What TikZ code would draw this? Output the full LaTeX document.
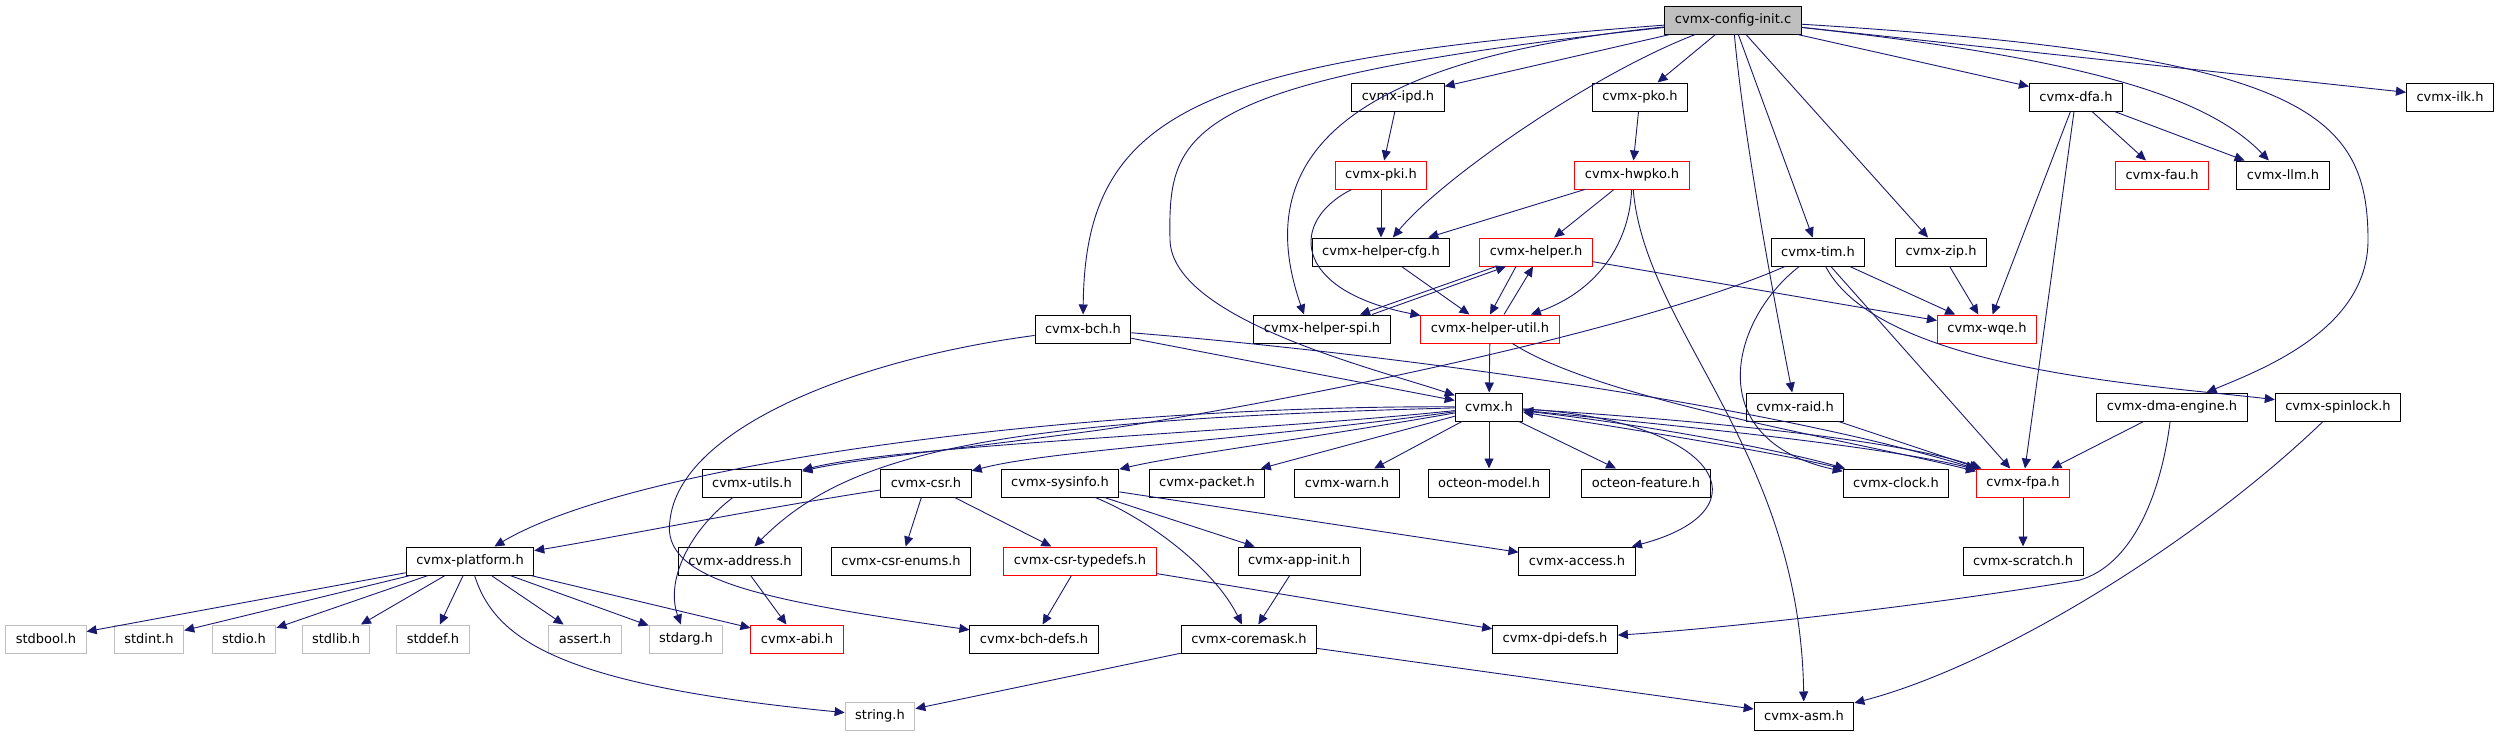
\documentclass[tikz,border=0pt]{standalone}
\usepackage{fontspec}
\setmainfont{DejaVu Sans}
\usetikzlibrary{arrows.meta}

\definecolor{edgeblue}{HTML}{191970}
\definecolor{boxgray}{HTML}{BFBFBF}

\begin{document}
\begin{tikzpicture}[x=1pt,y=-1pt,
    hdr/.style={draw=black,line width=1pt,fill=white,minimum height=28pt,
      inner xsep=10pt,inner ysep=0pt,font=\fontsize{13}{15}\selectfont},
    trunc/.style={hdr,draw=red},
    sys/.style={hdr,draw=boxgray},
    root/.style={hdr,fill=boxgray},
    dep/.style={draw=edgeblue,line width=0.9pt,-{Triangle[length=10pt,width=9pt]}}]
  \useasboundingbox (0,0) rectangle (2504,736);

  % top rows
  \node[root] (config) at (1733,20) {cvmx-config-init.c};
  \node[hdr] (ipd) at (1398,97) {cvmx-ipd.h};
  \node[hdr] (pko) at (1640,97) {cvmx-pko.h};
  \node[hdr] (dfa) at (2076,97) {cvmx-dfa.h};
  \node[hdr] (ilk) at (2450,97) {cvmx-ilk.h};
  \node[trunc] (pki) at (1381,175) {cvmx-pki.h};
  \node[trunc] (hwpko) at (1632,175) {cvmx-hwpko.h};
  \node[trunc] (fau) at (2162,175) {cvmx-fau.h};
  \node[hdr] (llm) at (2283,175) {cvmx-llm.h};
  \node[hdr] (hcfg) at (1381,252) {cvmx-helper-cfg.h};
  \node[trunc] (helper) at (1536,252) {cvmx-helper.h};
  \node[hdr] (tim) at (1818,252) {cvmx-tim.h};
  \node[hdr] (zip) at (1941,252) {cvmx-zip.h};
  \node[hdr] (bch) at (1083,329) {cvmx-bch.h};
  \node[hdr] (hspi) at (1322,329) {cvmx-helper-spi.h};
  \node[trunc] (hutil) at (1490,329) {cvmx-helper-util.h};
  \node[trunc] (wqe) at (1987,329) {cvmx-wqe.h};
  \node[hdr] (cvmx) at (1489,407) {cvmx.h};
  \node[hdr] (raid) at (1795,407) {cvmx-raid.h};
  \node[hdr] (dma) at (2172,407) {cvmx-dma-engine.h};
  \node[hdr] (spinlock) at (2338,407) {cvmx-spinlock.h};
  % middle row
  \node[hdr] (utils) at (752,483) {cvmx-utils.h};
  \node[hdr] (csr) at (926,483) {cvmx-csr.h};
  \node[hdr] (sysinfo) at (1060,483) {cvmx-sysinfo.h};
  \node[hdr] (packet) at (1207,483) {cvmx-packet.h};
  \node[hdr] (warn) at (1347,483) {cvmx-warn.h};
  \node[hdr] (model) at (1489,483) {octeon-model.h};
  \node[hdr] (feature) at (1646,483) {octeon-feature.h};
  \node[hdr] (clock) at (1896,483) {cvmx-clock.h};
  \node[trunc] (fpa) at (2023,483) {cvmx-fpa.h};
  \node[hdr] (platform) at (470,561) {cvmx-platform.h};
  \node[hdr] (address) at (740,561) {cvmx-address.h};
  \node[hdr] (csrenums) at (901,561) {cvmx-csr-enums.h};
  \node[trunc] (typedefs) at (1080,561) {cvmx-csr-typedefs.h};
  \node[hdr] (appinit) at (1299,561) {cvmx-app-init.h};
  \node[hdr] (access) at (1577,561) {cvmx-access.h};
  \node[hdr] (scratch) at (2023,561) {cvmx-scratch.h};
  % bottom rows
  \node[sys] (stdbool) at (46,639) {stdbool.h};
  \node[sys] (stdint) at (149,639) {stdint.h};
  \node[sys] (stdio) at (244,639) {stdio.h};
  \node[sys] (stdlib) at (336,639) {stdlib.h};
  \node[sys] (stddef) at (433,639) {stddef.h};
  \node[sys] (assert) at (585,639) {assert.h};
  \node[sys] (stdarg) at (686,639) {stdarg.h};
  \node[trunc] (abi) at (797,639) {cvmx-abi.h};
  \node[hdr] (bchdefs) at (1034,639) {cvmx-bch-defs.h};
  \node[hdr] (coremask) at (1249,639) {cvmx-coremask.h};
  \node[hdr] (dpidefs) at (1555,639) {cvmx-dpi-defs.h};
  \node[sys] (string) at (880,716) {string.h};
  \node[hdr] (asm) at (1804,716) {cvmx-asm.h};

  % from the root file
  \draw[dep] (config) -- (ipd);
  \draw[dep] (config) -- (pko);
  \draw[dep] (config) .. controls (1590,75) and (1440,180) .. (hcfg);
  \draw[dep] (config) .. controls (1340,60) and (1250,160) .. ([xshift=-18pt]hspi.north);
  \draw[dep] (config) .. controls (1200,60) and (1085,110) .. (bch);
  \draw[dep] (config) .. controls (1180,80) and (1168,130) .. (1170,240)
    .. controls (1172,320) and (1380,370) .. (cvmx);
  \draw[dep] (config) .. controls (1745,150) and (1780,330) .. (raid);
  \draw[dep] (config) -- (tim);
  \draw[dep] (config) -- (zip);
  \draw[dep] (config) -- (dfa);
  \draw[dep] (config) .. controls (2100,60) and (2210,100) .. (llm);
  \draw[dep] (config) -- (ilk);
  \draw[dep] (config) .. controls (2300,55) and (2368,110) .. (2368,240)
    .. controls (2368,330) and (2260,370) .. (dma);

  % helper headers
  \draw[dep] (ipd) -- (pki);
  \draw[dep] (pko) -- (hwpko);
  \draw[dep] (pki) -- (hcfg);
  \draw[dep] (pki) .. controls (1290,220) and (1290,290) .. (hutil);
  \draw[dep] (hwpko) -- (hcfg);
  \draw[dep] (hwpko) -- (helper);
  \draw[dep] (hwpko) .. controls (1630,240) and (1600,290) .. (hutil);
  \draw[dep] (hwpko) .. controls (1645,330) and (1800,450) .. (asm);
  \draw[dep] (hcfg) -- (hutil);
  \draw[dep] ([xshift=-40pt]helper.south) -- ([xshift=38pt]hspi.north);
  \draw[dep] ([xshift=50pt]hspi.north) -- ([xshift=-30pt]helper.south);
  \draw[dep] ([xshift=-20pt]helper.south) -- (hutil.north);
  \draw[dep] ([xshift=14pt]hutil.north) -- ([xshift=-3pt]helper.south);
  \draw[dep] (helper) -- (wqe);
  \draw[dep] (hutil) -- (cvmx);
  \draw[dep] (hutil) .. controls (1600,400) and (1850,440) .. (fpa);

  % tim, zip, dfa and friends
  \draw[dep] (tim) -- (wqe);
  \draw[dep] (tim) -- (fpa);
  \draw[dep] (tim) .. controls (1880,370) and (2150,385) .. (spinlock);
  \draw[dep] (tim) .. controls (1730,320) and (1700,440) .. (clock);
  \draw[dep] (tim) .. controls (1640,330) and (1300,400) .. (1100,430)
    .. controls (950,450) and (850,460) .. (utils);
  \draw[dep] (zip) -- (wqe);
  \draw[dep] (dfa) -- (wqe);
  \draw[dep] (dfa) -- (fpa);
  \draw[dep] (dfa) -- (fau);
  \draw[dep] (dfa) -- (llm);
  \draw[dep] (raid) -- (fpa);
  \draw[dep] (dma) -- (fpa);
  \draw[dep] (dma) .. controls (2160,500) and (2130,565) .. (2080,580)
    .. controls (1900,610) and (1700,630) .. (dpidefs);
  \draw[dep] (spinlock) .. controls (2200,540) and (2000,665) .. (asm);
  \draw[dep] (fpa) -- (scratch);

  % bch
  \draw[dep] (bch) -- (cvmx);
  \draw[dep] (bch) .. controls (1350,350) and (1750,400) .. (fpa);
  \draw[dep] (bch) .. controls (850,360) and (680,430) .. (670,520)
    .. controls (660,580) and (760,600) .. (bchdefs);

  % cvmx.h
  \draw[dep] (cvmx) .. controls (1250,432) and (900,445) .. (utils);
  \draw[dep] (cvmx) .. controls (1100,405) and (640,460) .. (platform);
  \draw[dep] (cvmx) .. controls (1000,420) and (850,450) .. (address);
  \draw[dep] (cvmx) .. controls (1250,440) and (1050,450) .. (csr);
  \draw[dep] (cvmx) .. controls (1300,440) and (1180,455) .. (sysinfo);
  \draw[dep] (cvmx) -- (packet);
  \draw[dep] (cvmx) -- (warn);
  \draw[dep] (cvmx) -- (model);
  \draw[dep] (cvmx) -- (feature);
  \draw[dep] (cvmx) .. controls (1650,425) and (1780,450) .. (clock);
  \draw[dep] (clock) .. controls (1790,455) and (1650,432) .. (cvmx);
  \draw[dep] (cvmx) .. controls (1700,420) and (1900,440) .. (fpa);
  \draw[dep] (fpa) .. controls (1900,448) and (1700,428) .. (cvmx);
  \draw[dep] (cvmx) .. controls (1720,420) and (1770,510) .. (access);

  % lower rows
  \draw[dep] (utils) .. controls (690,530) and (665,580) .. (stdarg);
  \draw[dep] (csr) .. controls (750,510) and (600,540) .. (platform);
  \draw[dep] (csr) -- (csrenums);
  \draw[dep] (csr) -- (typedefs);
  \draw[dep] (sysinfo) -- (appinit);
  \draw[dep] (sysinfo) .. controls (1150,520) and (1215,570) .. (coremask);
  \draw[dep] (sysinfo) -- (access);
  \draw[dep] (appinit) -- (coremask);
  \draw[dep] (typedefs) -- (bchdefs);
  \draw[dep] (typedefs) -- (dpidefs);
  \draw[dep] (coremask) -- (string);
  \draw[dep] (coremask) -- (asm);
  \draw[dep] (address) -- (abi);

  % system headers
  \draw[dep] (platform) -- (stdbool);
  \draw[dep] (platform) -- (stdint);
  \draw[dep] (platform) -- (stdio);
  \draw[dep] (platform) -- (stdlib);
  \draw[dep] (platform) -- (stddef);
  \draw[dep] (platform) -- (assert);
  \draw[dep] (platform) -- (stdarg);
  \draw[dep] (platform) -- (abi);
  \draw[dep] (platform) .. controls (495,640) and (560,685) .. (string);
\end{tikzpicture}
\end{document}
